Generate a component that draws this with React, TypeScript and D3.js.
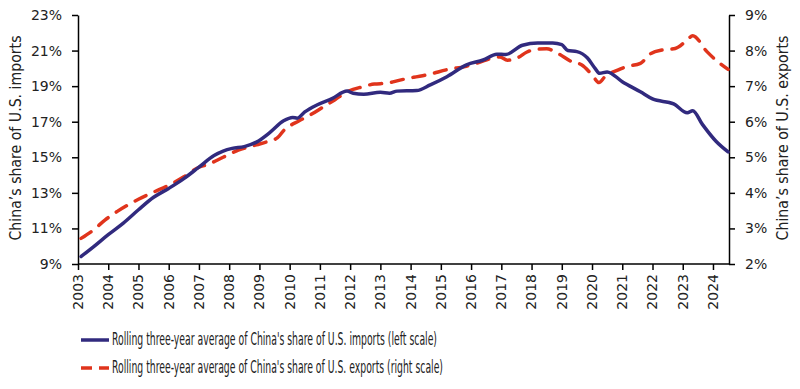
import { useEffect, useRef } from 'react';
import * as d3 from 'd3';

// rolling three-year average, China's share of U.S. imports (left scale, %)
const importYears = [
  2003.1, 2003.5, 2004.0, 2004.5, 2005.0, 2005.5, 2006.0, 2006.5, 2007.0, 2007.5,
  2007.8, 2008.1, 2008.5, 2008.9, 2009.35, 2009.8, 2010.1, 2010.25, 2010.5, 2010.9,
  2011.4, 2011.9, 2012.1, 2012.45, 2013.0, 2013.3, 2013.55, 2014.2, 2014.65, 2015.2,
  2015.85, 2016.4, 2016.85, 2017.15, 2017.7, 2018.2, 2018.7, 2019.0, 2019.2, 2019.5,
  2019.85, 2020.1, 2020.25, 2020.5, 2021.0, 2021.6, 2022.0, 2022.7, 2023.15, 2023.33,
  2023.65, 2024.1, 2024.5,
];
const importShare = [
  9.42, 9.95, 10.65, 11.3, 12.05, 12.75, 13.25, 13.8, 14.45, 15.1,
  15.35, 15.5, 15.6, 15.85, 16.4, 17.05, 17.24, 17.2, 17.55, 17.94,
  18.3, 18.72, 18.6, 18.55, 18.65, 18.6, 18.72, 18.75, 19.07, 19.53,
  20.2, 20.47, 20.8, 20.78, 21.3, 21.42, 21.42, 21.33, 21.0, 20.94,
  20.58, 20.0, 19.72, 19.8, 19.25, 18.68, 18.28, 18.0, 17.5, 17.62,
  16.85, 15.9, 15.3,
];

// rolling three-year average, China's share of U.S. exports (right scale, %)
const exportYears = [
  2003.1, 2003.5, 2003.9, 2004.3, 2004.65, 2005.0, 2005.45, 2006.2, 2006.5, 2007.0,
  2007.3, 2007.8, 2008.3, 2008.9, 2009.3, 2009.6, 2009.8, 2010.3, 2010.7, 2011.1,
  2011.5, 2011.9, 2012.4, 2012.8, 2013.2, 2013.65, 2014.1, 2014.55, 2015.3, 2015.8,
  2016.2, 2016.95, 2017.2, 2017.5, 2017.85, 2018.1, 2018.5, 2018.85, 2019.35, 2019.65,
  2020.0, 2020.23, 2020.43, 2020.85, 2021.15, 2021.6, 2021.95, 2022.35, 2022.75, 2023.15,
  2023.33, 2023.8, 2024.1, 2024.5,
];
const exportShare = [
  2.72, 2.95, 3.24, 3.48, 3.66, 3.82, 4.0, 4.3, 4.45, 4.72,
  4.8, 5.0, 5.2, 5.35, 5.45, 5.55, 5.75, 6.02, 6.2, 6.41,
  6.62, 6.84, 6.98, 7.06, 7.08, 7.17, 7.25, 7.32, 7.48, 7.55,
  7.65, 7.82, 7.73, 7.78, 7.96, 8.03, 8.05, 7.93, 7.68, 7.6,
  7.32, 7.1, 7.27, 7.45, 7.55, 7.64, 7.92, 8.02, 8.06, 8.3,
  8.42, 7.97, 7.73, 7.47,
];

const yearLabels = [
  '2003', '2004', '2005', '2006', '2007', '2008', '2009', '2010', '2011', '2012', '2013',
  '2014', '2015', '2016', '2017', '2018', '2019', '2020', '2021', '2022', '2023', '2024',
];
const leftTicks = [9, 11, 13, 15, 17, 19, 21, 23];
const rightTicks = [2, 3, 4, 5, 6, 7, 8, 9];

const legendLabels = [
  "Rolling three-year average of China's share of U.S. imports (left scale)",
  "Rolling three-year average of China's share of U.S. exports (right scale)",
];

const BLUE = '#312a7e';
const RED = '#e0341c';
const FONT = '"DejaVu Sans", Verdana, sans-serif';
const NARROW = '"Liberation Sans Narrow", "DejaVu Sans Condensed", "Roboto", sans-serif';

export default function App() {
  const svgRef = useRef<SVGSVGElement>(null);

  useEffect(() => {
    document.body.style.margin = '0';
    if (!svgRef.current) return;
    const svg = d3.select(svgRef.current);
    svg.selectAll('*').remove();

    const left = 78, right = 729, top = 15, bottom = 264;

    const x = d3.scaleLinear().domain([2003, 2024.53]).range([left, right]);
    const yL = d3.scaleLinear().domain([9, 23]).range([bottom, top]);
    const yR = d3.scaleLinear().domain([2, 9]).range([bottom, top]);

    // axes
    const styleAxis = (g: d3.Selection<SVGGElement, unknown, null, undefined>) => {
      g.select('.domain').attr('stroke', '#000').attr('stroke-width', 1.5);
      g.selectAll('.tick line').attr('stroke', '#000').attr('stroke-width', 1.5);
      g.selectAll('.tick text')
        .attr('font-family', FONT)
        .attr('font-size', 14)
        .attr('fill', '#222');
    };

    svg.append('g')
      .attr('transform', `translate(${left},0)`)
      .call(d3.axisLeft(yL).tickValues(leftTicks).tickSize(6).tickSizeOuter(0)
        .tickPadding(10).tickFormat(d => `${d}%`))
      .call(styleAxis);

    svg.append('g')
      .attr('transform', `translate(${right},0)`)
      .call(d3.axisRight(yR).tickValues(rightTicks).tickSize(6).tickSizeOuter(0)
        .tickPadding(10).tickFormat(d => `${d}%`))
      .call(styleAxis);

    const xAxis = svg.append('g')
      .attr('transform', `translate(0,${bottom})`)
      .call(d3.axisBottom(x).tickValues(yearLabels.map(Number)).tickSize(6).tickSizeOuter(0)
        .tickFormat(() => ''))
      .call(styleAxis);
    xAxis.select('.domain').attr('d', `M${left},0H${right}`);

    svg.append('g')
      .selectAll('text')
      .data(yearLabels)
      .enter()
      .append('text')
      .attr('transform', d => `translate(${x(+d)},274) rotate(-90)`)
      .attr('text-anchor', 'end')
      .attr('dy', '0.35em')
      .attr('font-family', FONT)
      .attr('font-size', 14)
      .attr('fill', '#222')
      .text(d => d);

    // axis titles
    svg.append('text')
      .attr('transform', `translate(21,138) rotate(-90)`)
      .attr('text-anchor', 'middle')
      .attr('font-family', FONT)
      .attr('font-size', 15)
      .attr('fill', '#222')
      .attr('textLength', 205)
      .attr('lengthAdjust', 'spacingAndGlyphs')
      .text("China’s share of U.S. imports");

    svg.append('text')
      .attr('transform', `translate(788,138) rotate(-90)`)
      .attr('text-anchor', 'middle')
      .attr('font-family', FONT)
      .attr('font-size', 15)
      .attr('fill', '#222')
      .attr('textLength', 205)
      .attr('lengthAdjust', 'spacingAndGlyphs')
      .text("China’s share of U.S. exports");

    // lines
    const imports = importYears.map((t, i) => [t, importShare[i]] as [number, number]);
    const exports = exportYears.map((t, i) => [t, exportShare[i]] as [number, number]);

    const lineL = d3.line<[number, number]>()
      .x(d => x(d[0])).y(d => yL(d[1])).curve(d3.curveMonotoneX);
    const lineR = d3.line<[number, number]>()
      .x(d => x(d[0])).y(d => yR(d[1])).curve(d3.curveMonotoneX);

    svg.append('path')
      .datum(exports)
      .attr('d', lineR)
      .attr('fill', 'none')
      .attr('stroke', RED)
      .attr('stroke-width', 3.5)
      .attr('stroke-dasharray', '12 10')
      .attr('stroke-linecap', 'round');

    svg.append('path')
      .datum(imports)
      .attr('d', lineL)
      .attr('fill', 'none')
      .attr('stroke', BLUE)
      .attr('stroke-width', 3.5)
      .attr('stroke-linejoin', 'round')
      .attr('stroke-linecap', 'round');

    // legend
    const legend = svg.append('g');
    const rows = [
      { label: legendLabels[0], color: BLUE, dash: null as string | null, y: 340, w: 325 },
      { label: legendLabels[1], color: RED, dash: '11 7', y: 368, w: 331 },
    ];
    rows.forEach(r => {
      legend.append('line')
        .attr('x1', 81).attr('x2', 109)
        .attr('y1', r.y).attr('y2', r.y)
        .attr('stroke', r.color)
        .attr('stroke-width', 3.5)
        .attr('stroke-dasharray', r.dash);
      legend.append('text')
        .attr('x', 112)
        .attr('y', r.y + 5)
        .attr('font-family', NARROW)
        .attr('font-size', 17)
        .attr('fill', '#222')
        .attr('textLength', r.w)
        .attr('lengthAdjust', 'spacingAndGlyphs')
        .text(r.label);
    });
  }, []);

  return <svg ref={svgRef} width={800} height={389} style={{ display: 'block', background: '#fff' }} />;
}
